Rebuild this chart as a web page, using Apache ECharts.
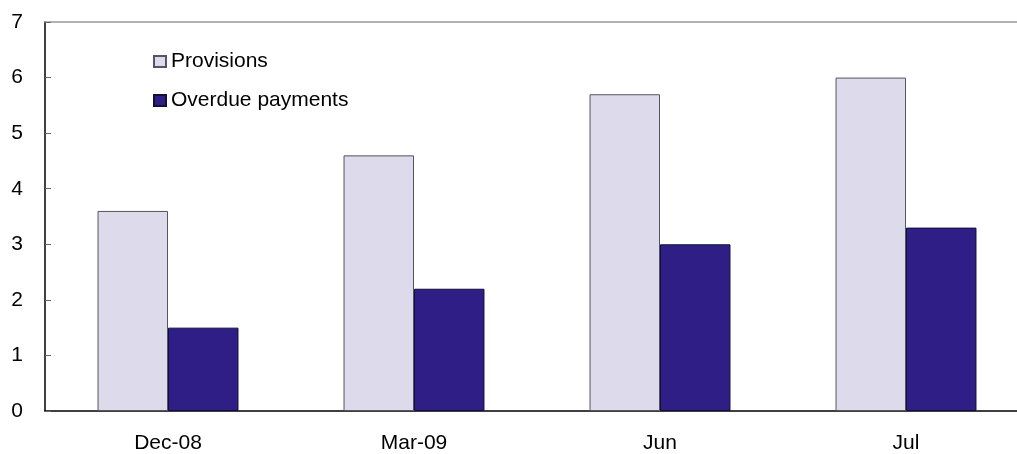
<!DOCTYPE html>
<html>
<head>
<meta charset="utf-8">
<script src="https://cdn.jsdelivr.net/npm/echarts@6/dist/echarts.min.js"></script>
<style>
  html, body { margin: 0; padding: 0; background: #fff; overflow: hidden; }
  /* a little wider than the window: the last category runs past the right edge */
  #chart { width: 1029px; height: 454px; }
</style>
</head>
<body>
<div id="chart"></div>
<script>
// data
const categories = ['Dec-08', 'Mar-09', 'Jun', 'Jul'];
const provisions = [3.6, 4.6, 5.7, 6.0];
const overduePayments = [1.5, 2.2, 3.0, 3.3];

const font = 'Liberation Sans, Arial, sans-serif';
const chart = echarts.init(document.getElementById('chart'));

chart.setOption({
  animation: false,
  textStyle: { fontFamily: font },
  legend: {
    orient: 'vertical',
    left: 153,
    top: 51,
    padding: 0,
    itemGap: 18,
    itemWidth: 12,
    itemHeight: 11,
    icon: 'rect',
    textStyle: { fontSize: 21, color: '#000', fontFamily: font },
    data: ['Provisions', 'Overdue payments']
  },
  grid: { left: 45, top: 22, right: 0, bottom: 41, containLabel: false },
  xAxis: [{
    type: 'category',
    data: categories,
    axisLine: { lineStyle: { color: '#000', width: 1.5 } },
    axisTick: { inside: true, length: 6, lineStyle: { color: '#666' } },
    axisLabel: { fontSize: 21, color: '#000', margin: 22, fontFamily: font },
    splitLine: { show: false }
  }, {
    // grey top border of the plot
    type: 'category',
    position: 'top',
    data: categories,
    axisLine: { lineStyle: { color: '#999', width: 1.5 } },
    axisTick: { show: false },
    axisLabel: { show: false }
  }],
  yAxis: {
    type: 'value',
    min: 0,
    max: 7,
    interval: 1,
    axisLine: { show: true, lineStyle: { color: '#000', width: 1.5 } },
    axisTick: { show: true, inside: true, length: 6, lineStyle: { color: '#666' } },
    axisLabel: { fontSize: 21, color: '#000', margin: 22, fontFamily: font },
    splitLine: { show: false }
  },
  series: [{
    name: 'Provisions',
    type: 'bar',
    data: provisions,
    barGap: '0%',
    barCategoryGap: '42.7%',
    itemStyle: { color: '#dcdaeb', borderColor: '#55555f', borderWidth: 1 }
  }, {
    name: 'Overdue payments',
    type: 'bar',
    data: overduePayments,
    itemStyle: { color: '#2e1e86', borderColor: '#10103a', borderWidth: 1 }
  }]
});
</script>
</body>
</html>
